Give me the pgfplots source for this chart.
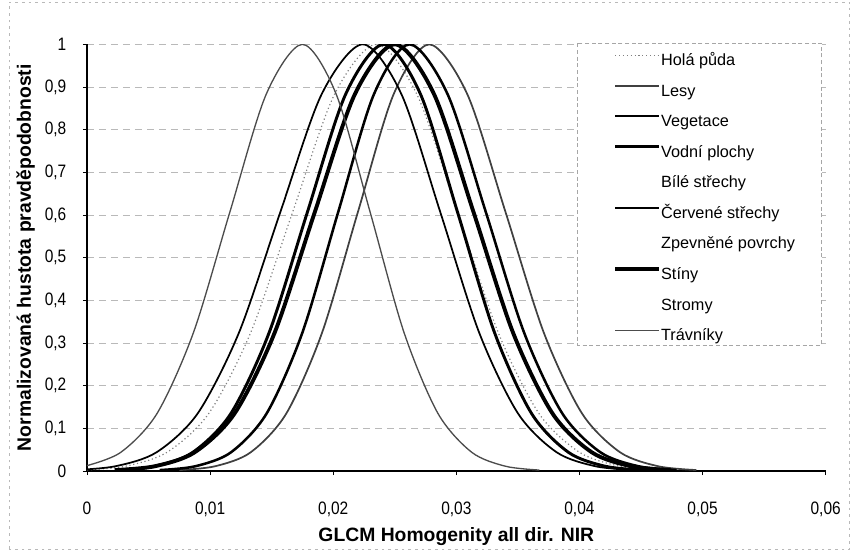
\documentclass[border=0pt]{standalone}
\usepackage{fontspec}
\setmainfont{Liberation Sans}
\newfontfamily\ticksfont[FakeStretch=0.86]{Liberation Sans}
\usepackage{pgfplots}
\pgfplotsset{compat=1.18}
\begin{document}
\begin{tikzpicture}
\useasboundingbox (-65.25pt,-60pt) rectangle (574.5pt,353.25pt);
\draw[gray!55, line width=0.5pt, dash pattern=on 2pt off 3pt] (-58.5pt,-58.5pt) rectangle (572pt,351.75pt);
\begin{axis}[
  at={(0pt,0pt)}, anchor=south west,
  scale only axis, width=554pt, height=320pt,
  xmin=0, xmax=0.06, ymin=0, ymax=1,
  clip mode=individual,
  axis x line=bottom, axis y line=left,
  axis line style={-, black, line width=0.8pt},
  xtick={0,0.01,0.02,0.03,0.04,0.05,0.06},
  ytick={0,0.1,0.2,0.3,0.4,0.5,0.6,0.7,0.8,0.9,1},
  scaled x ticks=false, scaled y ticks=false,
  /pgf/number format/assume math mode=true,
  xticklabel style={/pgf/number format/fixed, /pgf/number format/precision=2, /pgf/number format/use comma, font=\ticksfont\fontsize{13.5}{15}\selectfont, yshift=-17pt},
  yticklabel style={/pgf/number format/fixed, /pgf/number format/precision=1, /pgf/number format/use comma, font=\ticksfont\fontsize{13.5}{15}\selectfont, xshift=-9pt},
  ymajorgrids,
  major grid style={gray!55, line width=0.5pt, dash pattern=on 5pt off 4pt},
  tick align=outside, major tick length=3pt,
  tick style={black, line width=0.6pt},
  xlabel={GLCM Homogenity all dir. NIR},
  ylabel={Normalizovaná hustota pravděpodobnosti},
  xlabel style={font=\bfseries\fontsize{14.5}{16}\selectfont, at={(axis description cs:0.5,-0.153)}, anchor=center},
  ylabel style={font=\bfseries\fontsize{14.5}{16}\selectfont, at={(axis description cs:-0.083,0.5)}, anchor=center},
  legend image code/.code={\draw[#1] (0pt,4.5pt) -- (33pt,4.5pt);},
  legend cell align=left,
  legend style={draw=none, fill=none, inner sep=0pt, row sep=11.4pt,
    at={(rel axis cs:0.7121,0.979)}, anchor=north west,
    nodes={inner sep=0pt, text height=9pt, text depth=2.5pt, font=\fontsize{12.2}{14}\selectfont},
    /tikz/every even column/.append style={column sep=1pt}},
]
\draw[gray!70, fill=white, line width=0.6pt, dash pattern=on 3pt off 2pt] (rel axis cs:0.6644,1.0023) rectangle (rel axis cs:0.9946,0.295);

% Hola puda
\addplot[black!50, line width=0.9pt, dotted, smooth] coordinates {
(-0.0003,0.0022) (0.0031,0.0111) (0.0065,0.0439) (0.0099,0.1353) (0.0133,0.3247) (0.0167,0.6065) (0.0201,0.8825) (0.0235,1) (0.0268,0.8825) (0.0301,0.6065) (0.0334,0.3247) (0.0367,0.1353) (0.0400,0.0439) (0.0433,0.0111) (0.0466,0.0022)};
\addlegendentry{Holá půda}
% Lesy
\addplot[black!75, line width=1.3pt, smooth] coordinates {
(0.0075,0.0022) (0.0104,0.0111) (0.0133,0.0439) (0.0162,0.1353) (0.0191,0.3247) (0.0220,0.6065) (0.0249,0.8825) (0.0278,1) (0.0309,0.8825) (0.0340,0.6065) (0.0371,0.3247) (0.0402,0.1353) (0.0433,0.0439) (0.0464,0.0111) (0.0495,0.0022)};
\addlegendentry{Lesy}
% Vegetace
\addplot[black, line width=1.3pt, smooth] coordinates {
(-0.00105,0.0022) (0.0023,0.0111) (0.00565,0.0439) (0.0090,0.1353) (0.01235,0.3247) (0.0157,0.6065) (0.01905,0.8825) (0.0224,1) (0.02555,0.8825) (0.0287,0.6065) (0.03185,0.3247) (0.0350,0.1353) (0.03815,0.0439) (0.0413,0.0111) (0.04445,0.0022)};
\addlegendentry{Vegetace}
% Vodni plochy
\addplot[black, line width=2.2pt, smooth] coordinates {
(0.0024,0.0022) (0.0055,0.0111) (0.0086,0.0439) (0.0117,0.1353) (0.0148,0.3247) (0.0179,0.6065) (0.0210,0.8825) (0.0241,1) (0.0271,0.8825) (0.0301,0.6065) (0.0331,0.3247) (0.0361,0.1353) (0.0391,0.0439) (0.0421,0.0111) (0.0451,0.0022)};
\addlegendentry{Vodní plochy}
\addlegendimage{white, line width=1.5pt}
\addlegendentry{Bílé střechy}
% Cervene strechy
\addplot[black, line width=1.9pt, smooth] coordinates {
(0.0059,0.0022) (0.0088,0.0111) (0.0117,0.0439) (0.0146,0.1353) (0.0175,0.3247) (0.0204,0.6065) (0.0233,0.8825) (0.0262,1) (0.0293,0.8825) (0.0324,0.6065) (0.0355,0.3247) (0.0386,0.1353) (0.0417,0.0439) (0.0448,0.0111) (0.0479,0.0022)};
\addlegendentry{Červené střechy}
\addlegendimage{white, line width=1.5pt}
\addlegendentry{Zpevněné povrchy}
% Stiny
\addplot[black, line width=2.9pt, smooth] coordinates {
(0.00225,0.0022) (0.0055,0.0111) (0.00875,0.0439) (0.0120,0.1353) (0.01525,0.3247) (0.0185,0.6065) (0.02175,0.8825) (0.0250,1) (0.0282,0.8825) (0.0314,0.6065) (0.0346,0.3247) (0.0378,0.1353) (0.0410,0.0439) (0.0442,0.0111) (0.0474,0.0022)};
\addlegendentry{Stíny}
\addlegendimage{white, line width=1.5pt}
\addlegendentry{Stromy}
% Travniky
\addplot[black!70, line width=1pt, smooth] coordinates {
(-0.0002,0.0111) (0.00275,0.0439) (0.0057,0.1353) (0.00865,0.3247) (0.0116,0.6065) (0.01455,0.8825) (0.0175,1) (0.02025,0.8825) (0.0230,0.6065) (0.02575,0.3247) (0.0285,0.1353) (0.03125,0.0439) (0.0340,0.0111) (0.03675,0.0022)};
\addlegendentry{Trávníky}
\end{axis}
\end{tikzpicture}
\end{document}
